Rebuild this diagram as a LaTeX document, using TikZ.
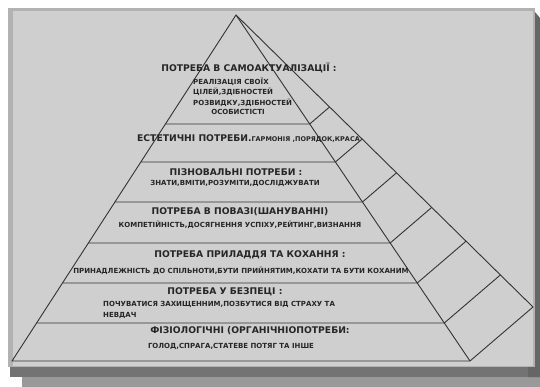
\documentclass[tikz,border=0pt]{standalone}
\usepackage{fontspec}
\setmainfont{DejaVu Sans}
\usepackage{tikz}
\usetikzlibrary{calc}

\begin{document}
\begin{tikzpicture}[x=1pt, y=-1pt,
  edge/.style={line width=0.9pt, color=black!80},
  head/.style={font=\fontsize{9.2}{11}\selectfont\bfseries, color=black!85, inner sep=0pt},
  note/.style={font=\fontsize{7}{8}\selectfont\bfseries, color=black!85, inner sep=0pt}]
\useasboundingbox (0,0) rectangle (540,387);
\fill[white] (0,0) rectangle (540,387);

\fill[black!40] (22,372) rectangle (540,387);
\fill[black!55] (10,364) rectangle (540,377);
\fill[black!60] (528,12) -- (535,12) -- (540,18) -- (540,377) -- (528,377) -- cycle;
\fill[black!30] (8,8) rectangle (535,367);
\fill[black!19] (13,11) rectangle (533,366);

\coordinate (apex) at (236,15);
\coordinate (bl) at (12,361);
\coordinate (br) at (470,361);
\coordinate (outer) at (533,307);

\draw[edge, line join=round] (apex) -- (bl) -- (br) -- (outer) -- cycle;
\draw[edge] (apex) -- (br);
\foreach \yy in {124,162,202,243,283,323} {
  \pgfmathsetmacro\tt{(\yy-15)/346}
  \draw[edge] ($(apex)!\tt!(bl)$) -- ($(apex)!\tt!(br)$) -- ($(apex)!\tt!(outer)$);
}

\node[head] (selfT) at (249,68) {ПОТРЕБА В САМОАКТУАЛІЗАЦІЇ :};
\node[note, anchor=west] (selfA) at (193,82) {РЕАЛІЗАЦІЯ СВОЇХ};
\node[note, anchor=west] (selfB) at (193,92) {ЦІЛЕЙ,ЗДІБНОСТЕЙ};
\node[note, anchor=west] (selfC) at (193,103) {РОЗВИДКУ,ЗДІБНОСТЕЙ};
\node[note] (selfD) at (238,112) {ОСОБИСТІСТІ};

\node[head, anchor=west] (aesT) at (137,139) {ЕСТЕТИЧНІ ПОТРЕБИ.{\fontsize{6.5}{7}\selectfont ГАРМОНІЯ ,ПОРЯДОК,КРАСА}};

\node[head] (cogT) at (236,172) {ПІЗНОВАЛЬНІ ПОТРЕБИ :};
\node[note] (cogN) at (235,183) {ЗНАТИ,ВМІТИ,РОЗУМІТИ,ДОСЛІДЖУВАТИ};

\node[head] (estT) at (240,212) {ПОТРЕБА В ПОВАЗІ(ШАНУВАННІ)};
\node[note] (estN) at (240,225) {КОМПЕТІЙНІСТЬ,ДОСЯГНЕННЯ УСПІХУ,РЕЙТИНГ,ВИЗНАННЯ};

\node[head] (loveT) at (250,255) {ПОТРЕБА ПРИЛАДДЯ ТА КОХАННЯ :};
\node[note] (loveN) at (241,271) {ПРИНАДЛЕЖНІСТЬ ДО СПІЛЬНОТИ,БУТИ ПРИЙНЯТИМ,КОХАТИ ТА БУТИ КОХАНИМ};

\node[head] (safeT) at (225,292) {ПОТРЕБА У БЕЗПЕЦІ :};
\node[note, anchor=west] (safeA) at (103,304) {ПОЧУВАТИСЯ ЗАХИЩЕННИМ,ПОЗБУТИСЯ ВІД СТРАХУ ТА};
\node[note, anchor=west] (safeB) at (103,315) {НЕВДАЧ};

\node[head] (physT) at (250,331) {ФІЗІОЛОГІЧНІ (ОРГАНІЧНІОПОТРЕБИ:};
\node[note] (physN) at (231,346) {ГОЛОД,СПРАГА,СТАТЕВЕ ПОТЯГ ТА ІНШЕ};
\end{tikzpicture}
\end{document}
